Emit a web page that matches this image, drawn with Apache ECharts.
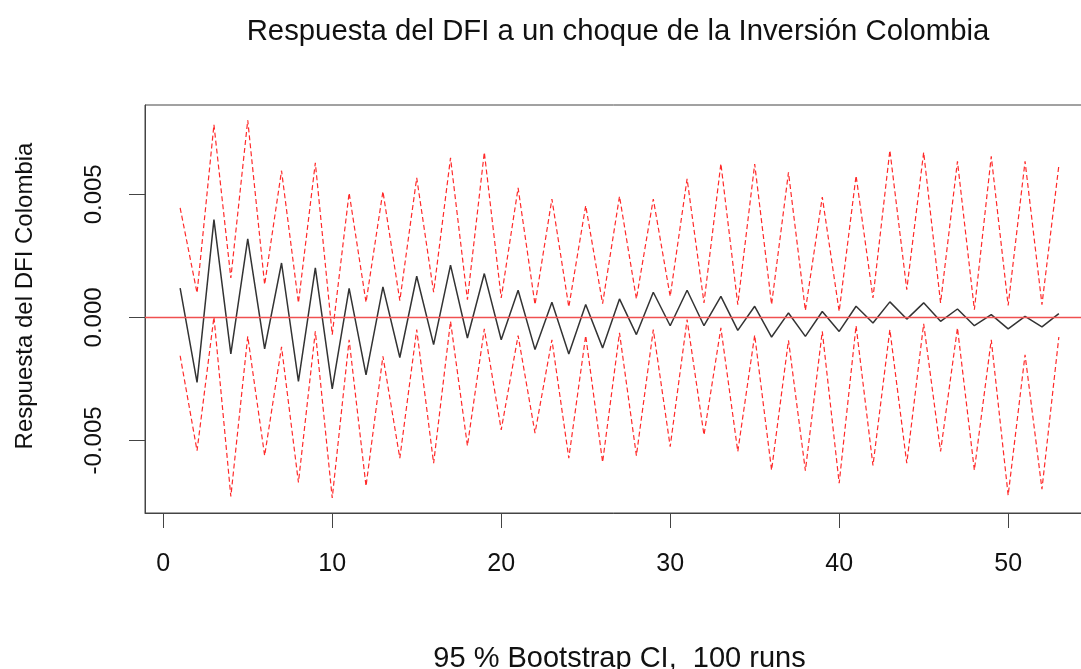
<!DOCTYPE html>
<html>
<head>
<meta charset="utf-8">
<script src="https://cdn.jsdelivr.net/npm/echarts@6/dist/echarts.min.js"></script>
<style>
html,body{margin:0;padding:0;background:#fff;}
#chart{width:1081px;height:669px;}
</style>
</head>
<body>
<div id="chart"></div>
<script>
const horizons = Array.from({length: 53}, (_, i) => i + 1);
const response = [0.00119,-0.00264,0.00397,-0.00148,0.00319,-0.00128,0.00221,-0.00260,0.00201,-0.00291,
  0.00118,-0.00234,0.00124,-0.00163,0.00167,-0.00111,0.00212,-0.00084,0.00178,-0.00091,
  0.00110,-0.00131,0.00061,-0.00149,0.00052,-0.00124,0.00075,-0.00070,0.00102,-0.00034,
  0.00110,-0.00034,0.00085,-0.00053,0.00045,-0.00080,0.00018,-0.00077,0.00024,-0.00057,
  0.00045,-0.00023,0.00063,-0.00007,0.00059,-0.00016,0.00034,-0.00034,0.00011,-0.00047,
  0.00004,-0.00039,0.00015];
const upper = [0.00445,0.00099,0.00783,0.00160,0.00801,0.00133,0.00596,0.00059,0.00628,-0.00070,
  0.00506,0.00061,0.00512,0.00068,0.00567,0.00102,0.00648,0.00072,0.00671,0.00079,
  0.00526,0.00052,0.00481,0.00042,0.00454,0.00056,0.00492,0.00075,0.00481,0.00085,
  0.00563,0.00059,0.00625,0.00052,0.00623,0.00052,0.00589,0.00028,0.00489,0.00024,
  0.00576,0.00079,0.00679,0.00113,0.00671,0.00059,0.00634,0.00031,0.00654,0.00048,
  0.00634,0.00052,0.00617];
const lower = [-0.00156,-0.00542,0.00002,-0.00728,-0.00077,-0.00562,-0.00120,-0.00671,-0.00057,-0.00734,
  -0.00091,-0.00686,-0.00158,-0.00572,-0.00050,-0.00593,-0.00016,-0.00522,-0.00047,-0.00457,
  -0.00074,-0.00470,-0.00091,-0.00572,-0.00074,-0.00589,-0.00063,-0.00562,-0.00050,-0.00525,
  -0.00009,-0.00478,-0.00043,-0.00545,-0.00072,-0.00621,-0.00093,-0.00623,-0.00057,-0.00674,
  -0.00034,-0.00602,-0.00050,-0.00593,-0.00026,-0.00545,-0.00043,-0.00621,-0.00091,-0.00723,
  -0.00152,-0.00698,-0.00080];
const xTicks = [0, 10, 20, 30, 40, 50];
const yTicks = [-0.005, 0, 0.005];

const pair = arr => horizons.map((h, i) => [h, arr[i]]);
const FONT = '"Liberation Sans", Arial, sans-serif';

const chart = echarts.init(document.getElementById('chart'), null, {renderer: 'canvas'});
chart.setOption({
  animation: false,
  backgroundColor: '#ffffff',
  title: {
    text: 'Respuesta del DFI a un choque de la Inversión Colombia',
    left: 613, textAlign: 'center', top: 12,
    textStyle: {fontFamily: FONT, fontSize: 29.3, fontWeight: 'normal', color: '#111'}
  },
  grid: {
    left: 145, top: 105, width: 949, height: 408,
    outerBoundsMode: 'none', containLabel: false,
    show: true, borderColor: '#444', borderWidth: 1, backgroundColor: 'transparent'
  },
  xAxis: {
    type: 'value', min: -1.08, max: 55.08,
    name: '95 % Bootstrap CI,  100 runs',
    nameLocation: 'middle', nameGap: 131,
    nameTextStyle: {fontFamily: FONT, fontSize: 29, color: '#111'},
    axisLine: {show: true, onZero: false, lineStyle: {color: '#444', width: 1}},
    axisTick: {show: true, inside: false, customValues: xTicks, length: 15, lineStyle: {color: '#444'}},
    axisLabel: {customValues: xTicks, margin: 39, fontFamily: FONT, fontSize: 25, color: '#111'},
    splitLine: {show: false}
  },
  yAxis: {
    type: 'value', min: -0.00795, max: 0.00863,
    name: 'Respuesta del DFI Colombia',
    nameLocation: 'middle', nameGap: 108, nameRotate: 90,
    nameTextStyle: {fontFamily: FONT, fontSize: 24, color: '#111', padding: [0, 0, 0, 26]},
    axisLine: {show: true, onZero: false, lineStyle: {color: '#444', width: 1}},
    axisTick: {show: true, inside: false, customValues: yTicks, length: 16, lineStyle: {color: '#444'}},
    axisLabel: {customValues: yTicks, rotate: 90, margin: 39, fontFamily: FONT, fontSize: 24, color: '#111',
      formatter: v => v.toFixed(3)},
    splitLine: {show: false}
  },
  series: [
    {
      name: 'Respuesta', type: 'line', data: pair(response), symbol: 'none',
      lineStyle: {color: '#333333', width: 1.5}, z: 3,
      markLine: {
        silent: true, symbol: 'none', label: {show: false},
        lineStyle: {color: '#f05050', width: 1.3, type: 'solid'},
        data: [{yAxis: 0}]
      }
    },
    {
      name: 'Superior', type: 'line', data: pair(upper), symbol: 'none',
      lineStyle: {color: '#ff2a2a', width: 1.2, type: [5, 3]}, z: 2
    },
    {
      name: 'Inferior', type: 'line', data: pair(lower), symbol: 'none',
      lineStyle: {color: '#ff2a2a', width: 1.2, type: [5, 3]}, z: 2
    }
  ]
});
</script>
</body>
</html>
